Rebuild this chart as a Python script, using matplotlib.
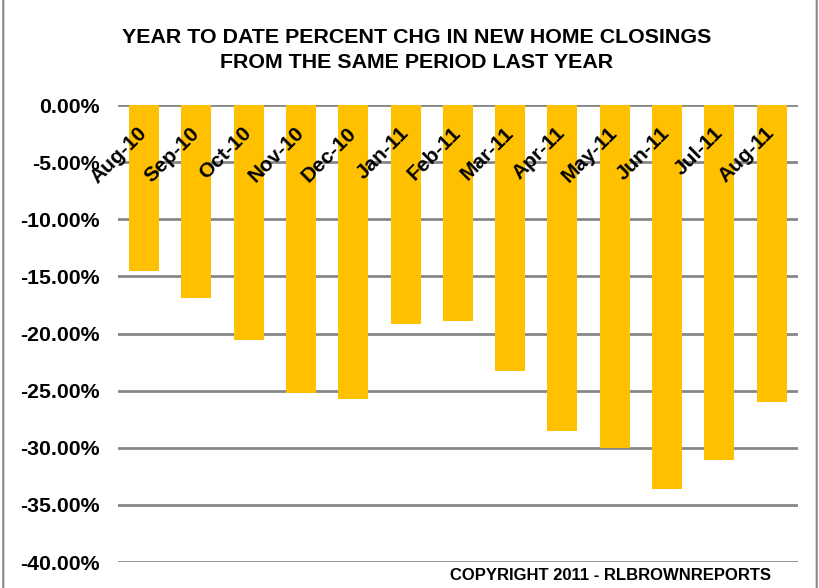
import numpy as np
import matplotlib
matplotlib.use('Agg')
import matplotlib.pyplot as plt
from matplotlib.patches import FancyBboxPatch

# data
months = ['Aug-10', 'Sep-10', 'Oct-10', 'Nov-10', 'Dec-10', 'Jan-11', 'Feb-11',
          'Mar-11', 'Apr-11', 'May-11', 'Jun-11', 'Jul-11', 'Aug-11']
pct_chg = [-14.5, -16.9, -20.6, -25.2, -25.7, -19.2, -18.9,
           -23.3, -28.5, -30.0, -33.6, -31.1, -26.0]
yticks = [0, -5, -10, -15, -20, -25, -30, -35, -40]

plt.rcParams['font.family'] = ['Liberation Sans', 'DejaVu Sans']
plt.rcParams['font.weight'] = 'bold'

fig = plt.figure(figsize=(8.2, 5.88), dpi=100)
ax = fig.add_axes([0.1439, 0.0442, 0.829, 0.7772])

x = np.arange(len(months))
ax.bar(x, pct_chg, width=0.573, color='#FFC000', zorder=3)

ax.set_xlim(-0.5, len(months) - 0.5)
ax.set_ylim(-40, 0)
ax.set_yticks(yticks)
ax.set_yticklabels(['%.2f%%' % v for v in yticks], fontsize=15.3, fontweight='bold')
ax.tick_params(axis='y', length=0, pad=13)
ax.set_xticks([])
ax.grid(axis='y', color='#878787', linewidth=2, zorder=0)
for s in ax.spines.values():
    s.set_visible(False)

# category labels sit just below the zero line
for xi, m in zip(x, months):
    ax.text(xi + 0.13, -1.6, m, rotation=45, ha='right', va='top',
            fontsize=15, fontweight='bold', zorder=4)

fig.text(0.5085, 0.937, 'YEAR TO DATE PERCENT CHG IN NEW HOME CLOSINGS',
         ha='center', va='center', fontsize=15.4, fontweight='bold')
fig.text(0.5085, 0.894, 'FROM THE SAME PERIOD LAST YEAR',
         ha='center', va='center', fontsize=15.4, fontweight='bold')

fig.text(0.745, 0.022, 'COPYRIGHT 2011 - RLBROWNREPORTS', ha='center', va='center',
         fontsize=12, fontweight='bold', family=['Liberation Sans Narrow', 'Liberation Sans'])

# chart border
border = FancyBboxPatch((0.004, -0.02), 0.992, 1.1, boxstyle='round,pad=0,rounding_size=0.01',
                        transform=fig.transFigure, fill=False, edgecolor='#888888', linewidth=1.5)
fig.patches.append(border)

fig.savefig('out.png', dpi=100)
